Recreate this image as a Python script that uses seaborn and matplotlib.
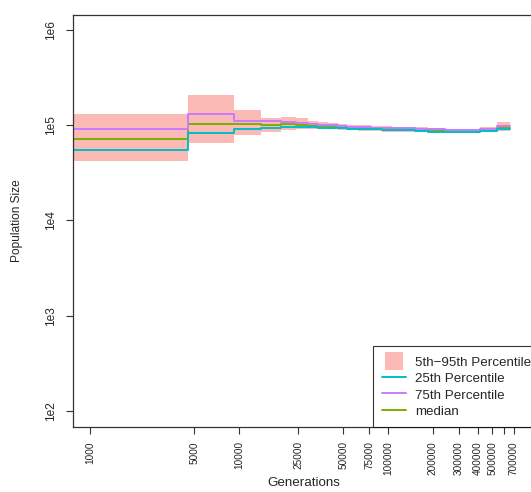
import numpy as np
import pandas as pd
import matplotlib
matplotlib.use('Agg')
import matplotlib.pyplot as plt
import seaborn as sns
from matplotlib.patches import Patch, Rectangle
from matplotlib.lines import Line2D
from matplotlib.legend_handler import HandlerPatch

# Step edges (generations) and per-interval population sizes
edges = [770, 4550, 9250, 14060, 19150, 24150, 29050, 33900, 39540, 46150, 53050,
         62900, 76900, 91200, 106400, 151800, 185500, 241300, 313900, 414400, 539000, 659000]
p5 = [42300, 65300, 79100, 85900, 88600, 90200, 91500, 93000, 90800, 89800,
      88600, 88000, 86500, 85900, 85100, 84500, 83500, 82500, 82500, 85900, 86500]
p25 = [54700, 81900, 90800, 93000, 96500, 95300, 95300, 94600, 93700, 93000,
       92300, 91500, 90200, 89300, 88600, 87100, 85900, 85100, 85100, 87100, 91500]
median = [72000, 104000, 102400, 100700, 102500, 100700, 99300, 97600, 96000, 95300,
          94200, 93000, 91900, 91300, 90800, 89300, 88000, 86500, 86500, 89000, 93700]
p75 = [91000, 132600, 111000, 111000, 108800, 104900, 103200, 101700, 100000, 99300,
       96900, 95300, 94600, 93700, 93000, 91500, 90200, 88600, 88600, 91500, 97600]
p95 = [131000, 206000, 144000, 120000, 121300, 118400, 110100, 107500, 104900, 104000,
       101200, 100000, 98800, 97600, 96500, 95300, 94200, 92300, 92000, 95300, 107500]

x_ticks = [1000, 5000, 10000, 25000, 50000, 75000, 100000, 200000, 300000,
           400000, 500000, 600000, 700000]
x_labels = ['1000', '5000', '10000', '25000', '50000', '75000', '100000', '200000',
            '300000', '400000', '500000', '', '700000']
y_ticks = [1e2, 1e3, 1e4, 1e5, 1e6]
y_labels = ['1e2', '1e3', '1e4', '1e5', '1e6']

legend_order = ['25th Percentile', '75th Percentile', 'median']
draw_order = ['median', '75th Percentile', '25th Percentile']
colors = {'25th Percentile': '#00BFC4', '75th Percentile': '#C77CFF', 'median': '#7CAE00'}
band_color = '#F8766D'

sns.set_style('white')
plt.rcParams['font.family'] = ['Liberation Sans', 'DejaVu Sans']

# long-form table for the step lines
series_vals = {'25th Percentile': p25, '75th Percentile': p75, 'median': median}
rows = []
for name in draw_order:
    vals = series_vals[name]
    for g, v in zip(edges, vals + [vals[-1]]):
        rows.append({'generation': g, 'size': v, 'series': name})
df = pd.DataFrame(rows)

fig = plt.figure(figsize=(5.31, 4.92), dpi=100)
ax = fig.add_axes([73 / 531, 1 - 427 / 492, 465 / 531, 412 / 492])

ax.fill_between(edges, p5 + [p5[-1]], p95 + [p95[-1]], step='post',
                color=band_color, alpha=0.5, linewidth=0)
sns.lineplot(data=df, x='generation', y='size', hue='series', palette=colors,
             hue_order=draw_order, estimator=None, drawstyle='steps-post',
             linewidth=1.4, legend=False, ax=ax)

ax.set_xscale('log')
ax.set_yscale('log')
ax.set_xlim(10 ** 2.886, 10 ** 6.007)
ax.set_ylim(10 ** 1.832, 10 ** 6.157)
ax.minorticks_off()

ax.set_xticks(x_ticks)
ax.set_xticklabels(x_labels, rotation=90, fontsize=7.2)
ax.set_yticks(y_ticks)
ax.set_yticklabels(y_labels, rotation=90, va='center', fontsize=8.6)
ax.tick_params(axis='both', direction='out', length=5.2, width=0.8, color='#333333',
               left=True, bottom=True)
ax.tick_params(axis='x', pad=5)
ax.tick_params(axis='y', pad=6.5)

for side in ['left', 'bottom', 'top', 'right']:
    ax.spines[side].set_color('#333333')
    ax.spines[side].set_linewidth(0.9)

ax.set_xlabel('Generations', fontsize=9.6)
ax.set_ylabel('Population Size', fontsize=8.6)
ax.xaxis.set_label_coords(0.497, -0.136)
ax.yaxis.set_label_coords(-0.120, 0.5)
ax.xaxis.label.set_va('center')
ax.yaxis.label.set_va('center')


def tall_box(legend, orig_handle, xdescent, ydescent, width, height, fontsize):
    return Rectangle((-xdescent + 0.12 * width, -ydescent - 0.22 * height),
                     0.76 * width, 1.44 * height)


handles = [Patch(facecolor=band_color, alpha=0.5, edgecolor='none', label='5th\u221295th Percentile')]
for name in legend_order:
    handles.append(Line2D([], [], color=colors[name], linewidth=1.4, label=name))
leg = ax.legend(handles=handles, loc='lower left',
                bbox_to_anchor=(373 / 531, 1 - 427 / 492), bbox_transform=fig.transFigure,
                borderaxespad=0, fancybox=False, frameon=True, edgecolor='black',
                fontsize=9.6, handlelength=1.8, handleheight=1.0, handletextpad=0.7,
                labelspacing=0.23, borderpad=0.65,
                handler_map={Patch: HandlerPatch(patch_func=tall_box)})
leg.get_frame().set_linewidth(0.8)

fig.savefig('out.png', dpi=100)
